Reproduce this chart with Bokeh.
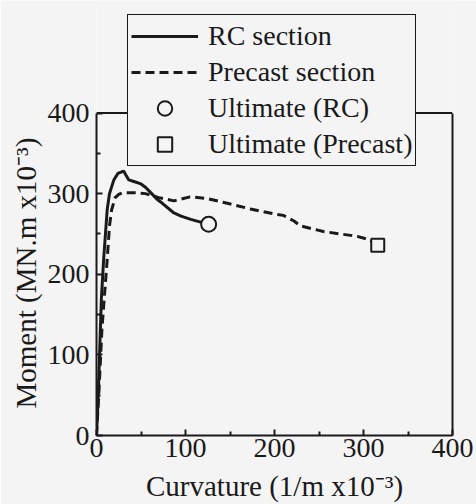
from bokeh.plotting import figure
from bokeh.models import Legend, LegendItem, FixedTicker, Range1d, LinearAxis, Span, Title
from bokeh.embed import file_html
from bokeh.resources import INLINE

# RC section moment-curvature curve
rc_curv = [0, 2, 4, 5.5, 8, 12, 14.6, 19.5, 24, 30.5, 33, 36.3, 42, 50, 55, 62, 68, 74, 87, 95, 106, 119, 126]
rc_mom = [0, 50, 120, 170, 218, 280, 300, 317, 325, 328, 323, 317, 315, 312, 308, 300, 293, 288, 276, 272, 268, 264, 262]

# Precast section moment-curvature curve
pc_curv = [0, 3, 6, 8, 12, 14.6, 17, 21, 25, 29, 45, 55, 70, 87, 105, 124, 147, 173, 199, 210, 222, 229, 255, 293, 306, 316]
pc_mom = [0, 60, 130, 160, 218, 260, 280, 295, 299, 301, 301, 300, 295, 291, 296, 294, 288, 281, 275, 273, 266, 260, 253, 247, 243, 236]

# Ultimate points
ult_rc_x, ult_rc_y = [126], [262]
ult_pc_x, ult_pc_y = [316], [236]

x_ticks = [0, 100, 200, 300, 400]
y_ticks = [0, 100, 200, 300, 400]
x_minor = [50, 150, 250, 350]
y_minor = [50, 150, 250, 350]
y_max = 400

BG = "#f4f4f4"
FONT = "Liberation Serif"
INK = "#1a1a1a"

# frame spans from y=5 px to y=437 px; data 0..400 occupies 437..113
top_px, axis_top_px, bottom_px = 5, 113, 437
y_end = y_max * (bottom_px - top_px) / (bottom_px - axis_top_px)

p = figure(width=476, height=504, output_backend="svg", toolbar_location=None,
           x_range=Range1d(0, 400), y_range=Range1d(0, y_end),
           min_border_left=96, min_border_right=24, min_border_top=top_px, min_border_bottom=67)
p.background_fill_color = BG
p.border_fill_color = BG
p.outline_line_color = None
p.grid.visible = False

for ax, ticks, minor in ((p.xaxis[0], x_ticks, x_minor), (p.yaxis[0], y_ticks, y_minor)):
    ax.ticker = FixedTicker(ticks=ticks, minor_ticks=minor)
    ax.major_tick_in = 6
    ax.major_tick_out = 0
    ax.minor_tick_in = 4
    ax.minor_tick_out = 0
    ax.axis_line_width = 2
    ax.axis_line_color = INK
    ax.major_tick_line_color = INK
    ax.minor_tick_line_color = INK
    ax.major_tick_line_width = 2
    ax.minor_tick_line_width = 2
    ax.major_label_text_font = FONT
    ax.major_label_text_font_size = "28px"
    ax.major_label_text_color = INK
    ax.axis_label_text_font = FONT
    ax.axis_label_text_font_size = "29px"
    ax.axis_label_text_font_style = "normal"
    ax.axis_label_text_color = INK

p.yaxis[0].bounds = (0, y_max)
p.xaxis.axis_label = "Curvature (1/m x10⁻³)"
p.xaxis.major_label_standoff = 3
p.xaxis.axis_label_standoff = 10
p.yaxis.major_label_standoff = 7

# y axis title, placed along the bounded part (0..400) of the axis
ytitle = Title(text="Moment (MN.m x10⁻³)", align="left", offset=27,
               text_font=FONT, text_font_size="29px", text_font_style="normal",
               text_color=INK, standoff=6)
p.add_layout(ytitle, "left")

# right border of the box (axis line only)
right_ax = LinearAxis(bounds=(0, y_max), ticker=FixedTicker(ticks=[]),
                      axis_line_width=2, axis_line_color=INK,
                      major_tick_line_color=None, minor_tick_line_color=None,
                      major_label_text_font_size="0px")
p.add_layout(right_ax, "right")
# top border of the box at y = 400
p.add_layout(Span(location=y_max, dimension="width", line_color=INK, line_width=2))

r_rc = p.line(rc_curv, rc_mom, line_color=INK, line_width=3)
r_pc = p.line(pc_curv, pc_mom, line_color=INK, line_width=3, line_dash="9 5")
r_urc = p.scatter(ult_rc_x, ult_rc_y, marker="circle", size=15, fill_color=BG,
                  line_color=INK, line_width=2)
r_upc = p.scatter(ult_pc_x, ult_pc_y, marker="square", size=13, fill_color=BG,
                  line_color=INK, line_width=2)

legend = Legend(items=[
    LegendItem(label="RC section", renderers=[r_rc]),
    LegendItem(label="Precast section", renderers=[r_pc]),
    LegendItem(label="Ultimate (RC)", renderers=[r_urc]),
    LegendItem(label="Ultimate (Precast)", renderers=[r_upc]),
], location=(31, 269))
legend.label_text_font = FONT
legend.label_text_font_size = "28px"
legend.label_text_color = INK
legend.label_height = 36
legend.glyph_height = 36
legend.glyph_width = 67
legend.label_standoff = 10
legend.padding = 3
legend.spacing = 0
legend.margin = 0
legend.border_line_color = INK
legend.border_line_alpha = 1
legend.border_line_width = 1.5
legend.background_fill_color = BG
legend.background_fill_alpha = 1
p.add_layout(legend, "center")

open("out.html", "w").write(file_html(p, INLINE))
